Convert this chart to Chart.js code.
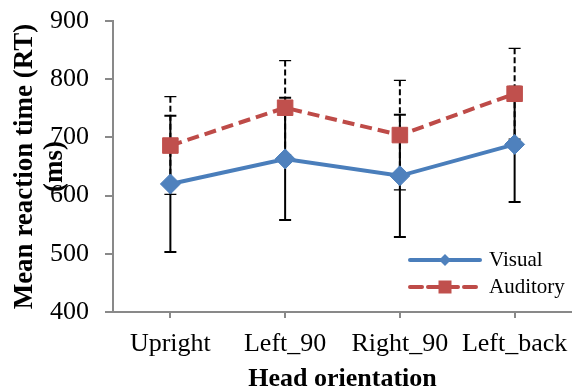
<!DOCTYPE html>
<html>
<head>
<meta charset="utf-8">
<script src="https://cdn.jsdelivr.net/npm/chart.js@4.4.0/dist/chart.umd.min.js"></script>
<style>
html, body { margin: 0; padding: 0; background: #fff; }
#wrap { width: 572px; height: 389px; }
</style>
</head>
<body>
<div id="wrap"><canvas id="rtChart"></canvas></div>
<script>
// chart values
const orientations = ['Upright', 'Left_90', 'Right_90', 'Left_back'];
const visualRT = [620, 663, 634, 688];
const visualErr = [117, 105, 105, 99];
const auditoryRT = [686, 751, 704, 775];
const auditoryErr = [84, 81, 94, 78];
const yTicks = [400, 500, 600, 700, 800, 900];

const serif = '"Liberation Serif", "Times New Roman", serif';
const axisGray = '#898989';

// vertical error bars, drawn under lines and markers
const errorBarPlugin = {
    id: 'errorBars',
    beforeDatasetsDraw(chart) {
        const ctx = chart.ctx;
        const y = chart.scales.y;
        for (let i = chart.data.datasets.length - 1; i >= 0; i--) {
            const ds = chart.data.datasets[i];
            const meta = chart.getDatasetMeta(i);
            ctx.save();
            ctx.strokeStyle = '#000';
            meta.data.forEach((pt, j) => {
                const top = y.getPixelForValue(ds.data[j] + ds.errorBars[j]);
                const bot = y.getPixelForValue(ds.data[j] - ds.errorBars[j]);
                ctx.lineWidth = ds.errWidth;
                ctx.setLineDash(ds.errDash);
                ctx.beginPath();
                ctx.moveTo(pt.x, top);
                ctx.lineTo(pt.x, bot);
                ctx.stroke();
                ctx.setLineDash([]);
                ctx.lineWidth = ds.capWidth;
                ctx.beginPath();
                ctx.moveTo(pt.x - 6, top);
                ctx.lineTo(pt.x + 6, top);
                ctx.moveTo(pt.x - 6, bot);
                ctx.lineTo(pt.x + 6, bot);
                ctx.stroke();
            });
            ctx.restore();
        }
    }
};

// legend inside the plot, line with marker like the original
const insideLegend = {
    id: 'insideLegend',
    afterDraw(chart) {
        const ctx = chart.ctx;
        const area = chart.chartArea;
        const x0 = area.right - 162, x1 = area.right - 92, tx = area.right - 83;
        chart.data.datasets.forEach((ds, i) => {
            const yy = area.bottom - 52 + i * 27;
            const mx = (x0 + x1) / 2;
            ctx.save();
            ctx.strokeStyle = ds.borderColor;
            ctx.lineWidth = ds.borderWidth;
            ctx.setLineDash(ds.borderDash || []);
            ctx.lineCap = 'round';
            ctx.beginPath();
            ctx.moveTo(x0, yy);
            ctx.lineTo(x1, yy);
            ctx.stroke();
            ctx.setLineDash([]);
            ctx.fillStyle = ds.pointBackgroundColor;
            ctx.beginPath();
            if (ds.pointStyle === 'rectRot') {
                const r = 6;
                ctx.moveTo(mx, yy - r);
                ctx.lineTo(mx + r, yy);
                ctx.lineTo(mx, yy + r);
                ctx.lineTo(mx - r, yy);
                ctx.closePath();
            } else {
                ctx.rect(mx - 6.5, yy - 6.5, 13, 13);
            }
            ctx.fill();
            ctx.fillStyle = '#000';
            ctx.font = '21px ' + serif;
            ctx.textBaseline = 'middle';
            ctx.textAlign = 'left';
            ctx.fillText(ds.label, tx, yy);
            ctx.restore();
        });
    }
};

new Chart(document.getElementById('rtChart'), {
    type: 'line',
    data: {
        labels: orientations,
        datasets: [{
            label: 'Visual',
            data: visualRT,
            errorBars: visualErr,
            errDash: [],
            errWidth: 2,
            capWidth: 2,
            borderColor: '#4A7EBB',
            borderWidth: 4,
            pointStyle: 'rectRot',
            pointRadius: 10,
            pointBackgroundColor: '#4F81BD',
            pointBorderColor: '#4F81BD',
            pointBorderWidth: 1,
            tension: 0
        }, {
            label: 'Auditory',
            data: auditoryRT,
            errorBars: auditoryErr,
            errDash: [6, 3],
            errWidth: 2,
            capWidth: 1.2,
            borderColor: '#BE4B48',
            borderWidth: 4,
            borderDash: [12, 6],
            pointStyle: 'rect',
            pointRadius: 11,
            pointBackgroundColor: '#C0504D',
            pointBorderColor: '#C0504D',
            pointBorderWidth: 1,
            tension: 0
        }]
    },
    options: {
        responsive: true,
        maintainAspectRatio: false,
        animation: false,
        layout: { autoPadding: false, padding: { top: 21, right: -3, bottom: 0, left: 0 } },
        plugins: {
            legend: { display: false },
            tooltip: { enabled: false }
        },
        scales: {
            x: {
                offset: true,
                afterFit(scale) {
                    scale.height = 77;
                    scale.paddingLeft = 0;
                    scale.paddingRight = 0;
                },
                border: { color: axisGray, width: 2 },
                grid: { display: true, drawOnChartArea: false, drawTicks: true, tickLength: 6, color: axisGray, lineWidth: 2 },
                ticks: { color: '#000', padding: 0, font: { family: serif, size: 26, lineHeight: 2.0 } },
                title: {
                    display: true,
                    text: 'Head orientation',
                    color: '#000',
                    padding: { top: 0, bottom: -3 },
                    font: { family: serif, size: 26, weight: 'bold', lineHeight: 1 }
                }
            },
            y: {
                min: yTicks[0],
                max: yTicks[yTicks.length - 1],
                afterFit(scale) {
                    scale.width = 113;
                    scale.paddingTop = 0;
                    scale.paddingBottom = 0;
                },
                afterBuildTicks(scale) { scale.ticks = yTicks.map(v => ({ value: v })); },
                border: { color: axisGray, width: 2 },
                grid: { display: true, drawOnChartArea: false, drawTicks: true, tickLength: 8, color: axisGray, lineWidth: 2 },
                ticks: { color: '#000', padding: 16, font: { family: serif, size: 26 } },
                title: {
                    display: true,
                    text: ['Mean reaction time (RT)', '(ms)'],
                    color: '#000',
                    padding: { top: 10, bottom: 0 },
                    font: { family: serif, size: 27, weight: 'bold', lineHeight: 1.1 }
                }
            }
        }
    },
    plugins: [errorBarPlugin, insideLegend]
});
</script>
</body>
</html>
